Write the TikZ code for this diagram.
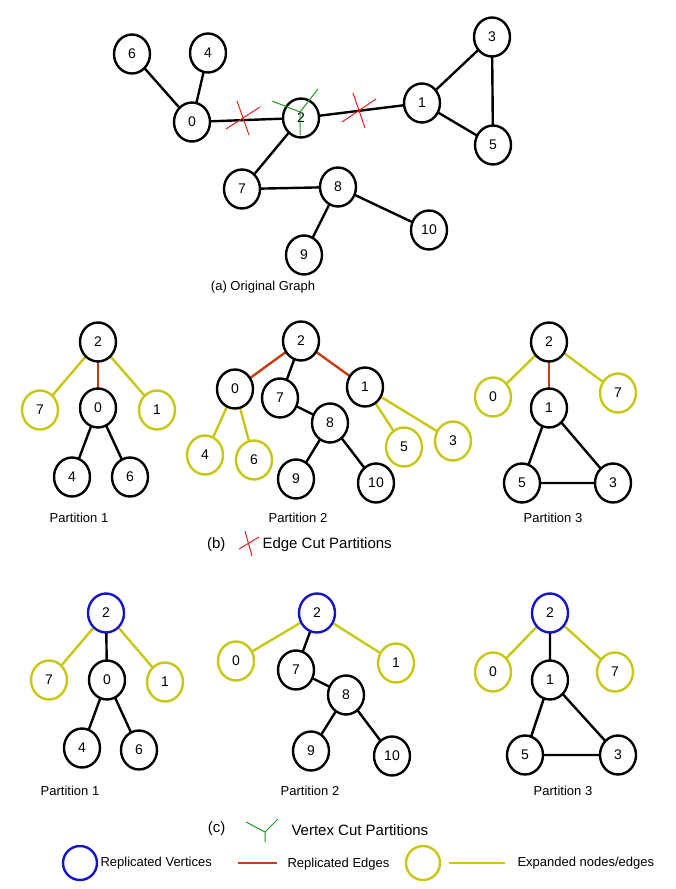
\documentclass[tikz,border=0pt]{standalone}
\usepackage{fontspec}
\setmainfont{Liberation Sans}
\usetikzlibrary{shapes.geometric}
\definecolor{yel}{RGB}{200,200,20}
\definecolor{redge}{RGB}{200,60,20}
\definecolor{blu}{RGB}{20,20,200}
\definecolor{xred}{RGB}{230,30,30}
\definecolor{xgrn}{RGB}{30,150,30}
\tikzset{
 n/.style={ellipse,draw=black,line width=2.4pt,minimum width=36pt,minimum height=39pt,inner sep=0pt,font=\fontsize{14}{14}\selectfont,fill=white},
 ny/.style={n,draw=yel},
 nb/.style={n,draw=blu},
 e/.style={line width=2.4pt,black},
 ey/.style={line width=2.4pt,yel},
 er/.style={line width=2.4pt,redge},
 captxt/.style={font=\fontsize{13}{13}\selectfont},
 bigcap/.style={font=\fontsize{15}{15}\selectfont,anchor=west},
 cx/.style={xred,line width=1pt},
 cy/.style={xgrn,line width=1pt}
}
\begin{document}
\begin{tikzpicture}[x=1pt,y=-1pt]
\useasboundingbox (0,0) rectangle (676,889);
% (a)
\draw[e] (192,122) -- (132,54) (192,122) -- (208,53) (192,122) -- (301,118) -- (422,103) -- (492,37) -- (493,145) -- (422,103)
 (301,118) -- (242,189) -- (338,187) -- (304,255) (338,187) -- (429,230);
\node[n] (a6) at (132,54) {6};
\node[n] (a4) at (208,53) {4};
\node[n] (a0) at (192,122) {0};
\node[n] (a2) at (301,118) {2};
\node[n] (a1) at (422,103) {1};
\node[n] (a3) at (492,37) {3};
\node[n] (a5) at (493,145) {5};
\node[n] (a7) at (242,189) {7};
\node[n] (a8) at (338,187) {8};
\node[n] (a9) at (304,255) {9};
\node[n] (a10) at (429,230) {10};
\draw[cx] (226,129) -- (260,107) (237,101) -- (249,135);
\draw[cx] (342,122) -- (376,99) (353,93) -- (365,128);
\coordinate (gy) at (300,112);
\draw[cy] (gy) -- (272,101) (gy) -- (318,89) (gy) -- (300,135);
\node[captxt] (capa) at (263,287) {(a) Original Graph};
% (b) P1
\draw[ey] (98,342) -- (40,410) (98,342) -- (157,410);
\draw[er] (98,342) -- (98,408);
\draw[e] (98,408) -- (72,477) (98,408) -- (130,477);
\node[n] (b12) at (98,342) {2};
\node[ny] (b17) at (40,410) {7};
\node[n] (b10) at (98,408) {0};
\node[ny] (b11) at (157,410) {1};
\node[n] (b14) at (72,477) {4};
\node[n] (b16) at (130,477) {6};
\node[captxt] (pb1) at (79,518) {Partition 1};
% (b) P2
\draw[er] (301,341) -- (235,389) (301,341) -- (365,387);
\draw[e] (301,341) -- (280,398) -- (330,423) -- (296,479) (330,423) -- (376,483);
\draw[ey] (235,389) -- (205,455) (235,389) -- (254,460) (365,387) -- (404,447) (365,387) -- (453,441);
\node[n] (b22) at (301,341) {2};
\node[n] (b20) at (235,389) {0};
\node[n] (b27) at (280,398) {7};
\node[n] (b21) at (365,387) {1};
\node[n] (b28) at (330,423) {8};
\node[ny] (b24) at (205,455) {4};
\node[ny] (b26) at (254,460) {6};
\node[n] (b29) at (296,479) {9};
\node[n] (b210) at (376,483) {10};
\node[ny] (b25) at (404,447) {5};
\node[ny] (b23) at (453,441) {3};
\node[captxt] (pb2) at (298,518) {Partition 2};
% (b) P3
\draw[ey] (549,342) -- (493,397) (549,342) -- (618,393);
\draw[er] (549,342) -- (549,408);
\draw[e] (549,408) -- (522,483) -- (613,483) -- (549,408);
\node[n] (b32) at (549,342) {2};
\node[ny] (b30) at (493,397) {0};
\node[ny] (b37) at (618,393) {7};
\node[n] (b31) at (549,408) {1};
\node[n] (b35) at (522,483) {5};
\node[n] (b33) at (613,483) {3};
\node[captxt] (pb3) at (553,518) {Partition 3};
\node[bigcap,anchor=east] (lb) at (229,545) {(b)};
\draw[cx] (239,549) -- (259,537) (245,531) -- (252,556);
\node[bigcap] (lbt) at (259,545) {Edge Cut Partitions};
% (c) P1
\draw[ey] (106,613) -- (49,680) (106,613) -- (165,682);
\draw[e] (106,613) -- (107,680) -- (82,748) (107,680) -- (139,750);
\node[nb] (c12) at (106,613) {2};
\node[ny] (c17) at (49,680) {7};
\node[n] (c10) at (107,680) {0};
\node[ny] (c11) at (165,682) {1};
\node[n] (c14) at (82,748) {4};
\node[n] (c16) at (139,750) {6};
\node[captxt] (pc1) at (70,791) {Partition 1};
% (c) P2
\draw[ey] (317,613) -- (236,661) (317,613) -- (396,663);
\draw[e] (317,613) -- (296,670) -- (346,695) -- (311,751) (346,695) -- (392,756);
\node[nb] (c22) at (317,613) {2};
\node[ny] (c20) at (236,661) {0};
\node[ny] (c21) at (396,663) {1};
\node[n] (c27) at (296,670) {7};
\node[n] (c28) at (346,695) {8};
\node[n] (c29) at (311,751) {9};
\node[n] (c210) at (392,756) {10};
\node[captxt] (pc2) at (310,791) {Partition 2};
% (c) P3
\draw[ey] (550,613) -- (493,672) (550,613) -- (615,672);
\draw[e] (550,613) -- (550,680) -- (525,755) -- (618,755) -- (550,680);
\node[nb] (c32) at (550,613) {2};
\node[ny] (c30) at (493,672) {0};
\node[ny] (c37) at (615,672) {7};
\node[n] (c31) at (550,680) {1};
\node[n] (c35) at (525,755) {5};
\node[n] (c33) at (618,755) {3};
\node[captxt] (pc3) at (563,791) {Partition 3};
\node[bigcap,anchor=east] (lc) at (229,829) {(c)};
\coordinate (gy2) at (265,832);
\draw[cy] (gy2) -- (246,822) (gy2) -- (278,819) (gy2) -- (265,842);
\node[bigcap] (lct) at (288,830) {Vertex Cut Partitions};
% legend
\node[ellipse,draw=blu,line width=2.4pt,minimum width=34pt,minimum height=34pt] (lg1) at (80,863) {};
\node[captxt,anchor=west] (lg1t) at (97,863) {Replicated Vertices};
\coordinate (r1) at (238,863); \coordinate (r2) at (277,863);
\draw[er] (r1) -- (r2);
\node[captxt,anchor=west] (lg2t) at (284,864) {Replicated Edges};
\node[ellipse,draw=yel,line width=2.4pt,minimum width=34pt,minimum height=34pt] (lg3) at (423,863) {};
\coordinate (y1) at (449,863); \coordinate (y2) at (505,863);
\draw[ey] (y1) -- (y2);
\node[captxt,anchor=west] (lg3t) at (514,863) {Expanded nodes/edges};
\end{tikzpicture}
\end{document}
